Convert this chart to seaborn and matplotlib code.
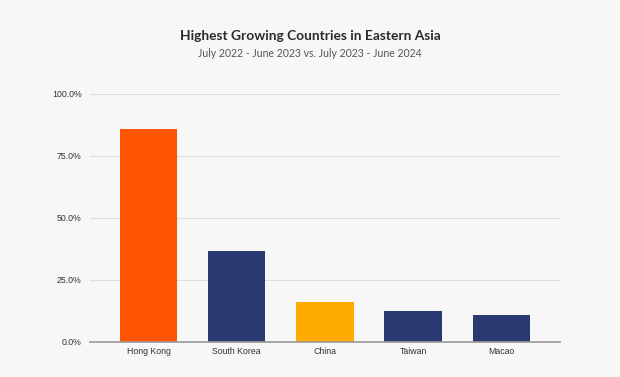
import pandas as pd
import seaborn as sns
import matplotlib.pyplot as plt
from matplotlib.ticker import PercentFormatter

# data
countries = ["Hong Kong", "South Korea", "China", "Taiwan", "Macao"]
growth = [85.8, 36.7, 16.1, 12.6, 10.7]
bar_colors = ["#FF5500", "#283A6F", "#FFAA00", "#283A6F", "#283A6F"]

df = pd.DataFrame({"country": countries, "growth": growth})

sns.set_theme(style="white")
plt.rcParams["font.family"] = ["Liberation Sans", "DejaVu Sans"]

fig = plt.figure(figsize=(6.2, 3.77), dpi=100, facecolor="#F7F7F7")
ax = fig.add_axes([0.145, 0.093, 0.758, 0.658], facecolor="#F7F7F7")

sns.barplot(data=df, x="country", y="growth", hue="country",
            palette=bar_colors, legend=False, width=0.65, saturation=1,
            linewidth=0, ax=ax)

ax.set_ylim(0, 100)
ax.set_xlim(-0.665, 4.665)
ax.set_yticks([0, 25, 50, 75, 100])
ax.yaxis.set_major_formatter(PercentFormatter(decimals=1))
ax.grid(axis="y", color="#DDDDDD", linewidth=0.8)
ax.set_axisbelow(True)
for s in ["top", "right", "left"]:
    ax.spines[s].set_visible(False)
ax.spines["bottom"].set_color("#999999")
ax.spines["bottom"].set_linewidth(1.2)
ax.tick_params(axis="both", length=0, labelsize=6.3, colors="#333333")
ax.tick_params(axis="y", pad=6)
ax.set_xlabel("")
ax.set_ylabel("")

fig.text(0.5, 0.893, "Highest Growing Countries in Eastern Asia", ha="center",
         fontsize=9.9, fontweight="bold", color="#2B2B2B", family=["Lato", "DejaVu Sans"])
fig.text(0.5, 0.848, "July 2022 - June 2023 vs. July 2023 - June 2024", ha="center",
         fontsize=7.6, color="#555555", family=["Lato", "DejaVu Sans"])

fig.savefig("out.png", dpi=100, facecolor=fig.get_facecolor())
